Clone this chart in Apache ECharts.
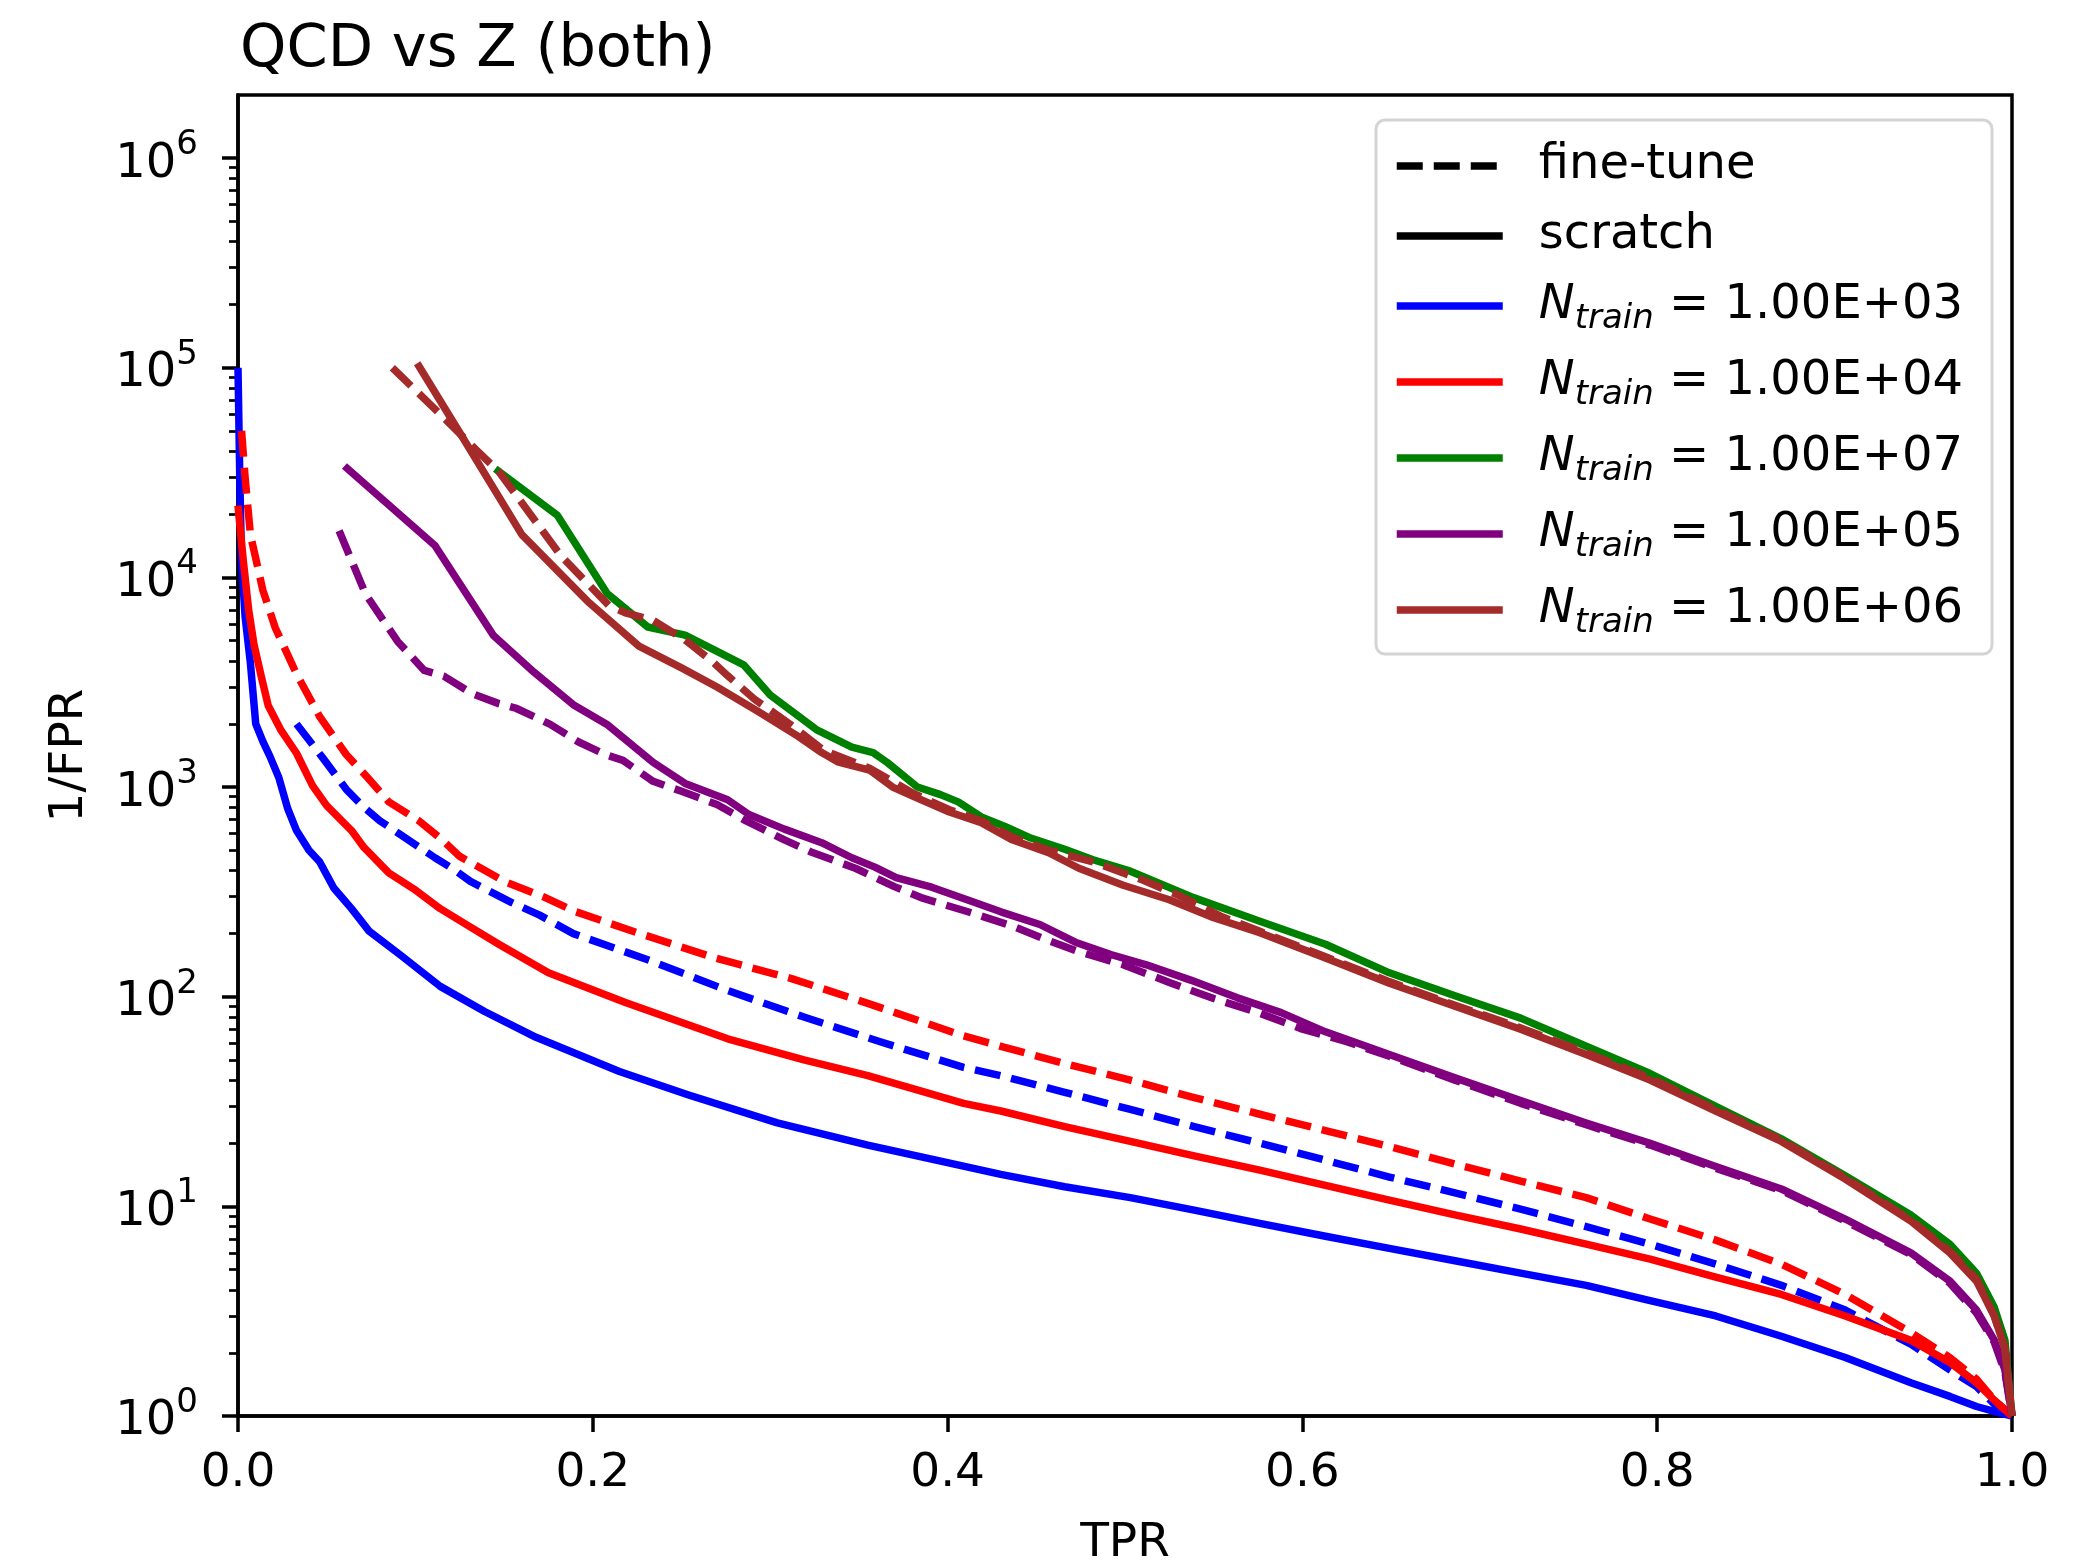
<!DOCTYPE html>
<html>
<head>
<meta charset="utf-8">
<script src="https://cdn.jsdelivr.net/npm/echarts@6/dist/echarts.min.js"></script>
<style>
  html, body { margin: 0; padding: 0; background: #ffffff; }
  #chart { width: 2096px; height: 1566px; }
</style>
</head>
<body>
<div id="chart"></div>
<script>
// ---------------- DATA ----------------
const titleText = 'QCD vs Z (both)';
const xTickValues = [0, 0.2, 0.4, 0.6, 0.8, 1.0];
const yMajorTicks = [1, 10, 100, 1000, 10000, 100000, 1000000];
const yMinorMantissas = [2, 3, 4, 5, 6, 7, 8, 9];
const legendNames = ['fine-tune', 'scratch',
  'N_train = 1.00E+03', 'N_train = 1.00E+04', 'N_train = 1.00E+07',
  'N_train = 1.00E+05', 'N_train = 1.00E+06'];

// N_train = 1e3 (blue)
const tprScratch1e3 = [0, 0.001, 0.002, 0.004, 0.007, 0.010, 0.014, 0.018, 0.023, 0.028, 0.033, 0.040, 0.046, 0.054, 0.064, 0.074, 0.092, 0.114, 0.139, 0.168, 0.215, 0.254, 0.304, 0.355, 0.398, 0.43, 0.466, 0.503, 0.539, 0.576, 0.613, 0.649, 0.686, 0.723, 0.760, 0.796, 0.833, 0.870, 0.906, 0.943, 0.965, 0.980, 0.992, 1.0];
const invFprScratch1e3 = [100000, 30000, 12000, 6500, 3900, 2000, 1650, 1400, 1110, 790, 620, 500, 440, 330, 263, 205, 157, 112, 85, 64, 44, 34, 25, 19.6, 16.3, 14.2, 12.4, 11, 9.6, 8.3, 7.2, 6.3, 5.5, 4.8, 4.2, 3.55, 3.0, 2.4, 1.9, 1.44, 1.24, 1.11, 1.04, 1.0];
const tprFine1e3 = [0.033, 0.048, 0.061, 0.071, 0.080, 0.092, 0.111, 0.121, 0.131, 0.154, 0.170, 0.189, 0.233, 0.276, 0.319, 0.362, 0.409, 0.43, 0.466, 0.503, 0.539, 0.576, 0.613, 0.649, 0.686, 0.723, 0.760, 0.796, 0.833, 0.870, 0.906, 0.943, 0.965, 0.980, 0.990, 1.0];
const invFprFine1e3 = [2000, 1370, 975, 800, 690, 590, 460, 408, 355, 282, 245, 200, 148, 107, 80, 61, 46, 42, 35, 29, 24, 20, 16.6, 13.8, 11.6, 9.7, 8.0, 6.6, 5.3, 4.2, 3.2, 2.2, 1.66, 1.38, 1.14, 1.0];

// N_train = 1e4 (red)
const tprScratch1e4 = [0, 0.003, 0.006, 0.009, 0.013, 0.017, 0.024, 0.033, 0.042, 0.050, 0.064, 0.071, 0.085, 0.099, 0.114, 0.129, 0.147, 0.175, 0.218, 0.276, 0.319, 0.355, 0.409, 0.43, 0.466, 0.503, 0.539, 0.576, 0.613, 0.649, 0.686, 0.723, 0.760, 0.796, 0.833, 0.870, 0.906, 0.943, 0.965, 0.980, 0.990, 1.0];
const invFprScratch1e4 = [22000, 12000, 7000, 4800, 3400, 2450, 1880, 1450, 1016, 815, 620, 515, 390, 327, 263, 220, 178, 130, 94, 63, 50, 42, 31, 28.5, 24, 20.4, 17.4, 14.9, 12.6, 10.7, 9.1, 7.8, 6.6, 5.6, 4.6, 3.8, 3.0, 2.3, 1.8, 1.44, 1.19, 1.0];
const tprFine1e4 = [0.002, 0.004, 0.007, 0.014, 0.021, 0.033, 0.046, 0.061, 0.073, 0.085, 0.102, 0.114, 0.125, 0.150, 0.172, 0.190, 0.225, 0.269, 0.312, 0.355, 0.409, 0.43, 0.466, 0.503, 0.539, 0.576, 0.613, 0.649, 0.686, 0.723, 0.760, 0.796, 0.833, 0.870, 0.906, 0.943, 0.965, 0.980, 0.990, 1.0];
const invFprFine1e4 = [50000, 30000, 16000, 8700, 5750, 3460, 2170, 1430, 1110, 850, 690, 570, 467, 355, 300, 255, 202, 153, 122, 93, 65, 58, 48, 40, 33, 27.5, 23, 19.3, 15.9, 13.2, 11, 8.7, 6.9, 5.3, 3.8, 2.5, 1.9, 1.5, 1.19, 1.0];

// N_train = 1e7 (green)
const tprScratch1e7 = [0.145, 0.180, 0.208, 0.231, 0.252, 0.272, 0.285, 0.300, 0.326, 0.346, 0.358, 0.366, 0.383, 0.396, 0.406, 0.419, 0.432, 0.446, 0.466, 0.482, 0.503, 0.539, 0.576, 0.613, 0.649, 0.686, 0.723, 0.760, 0.796, 0.833, 0.870, 0.906, 0.943, 0.965, 0.980, 0.990, 0.996, 1.0];
const invFprScratch1e7 = [33000, 19800, 8400, 5800, 5300, 4350, 3830, 2750, 1880, 1550, 1460, 1310, 1000, 920, 850, 720, 650, 575, 505, 450, 397, 296, 229, 178, 130, 101, 79, 58, 43, 30, 21, 14, 9.1, 6.6, 4.8, 3.3, 2.3, 1.0];

// N_train = 1e5 (purple)
const tprScratch1e5 = [0.060, 0.111, 0.144, 0.167, 0.189, 0.208, 0.234, 0.252, 0.276, 0.288, 0.308, 0.329, 0.346, 0.359, 0.371, 0.391, 0.411, 0.43, 0.452, 0.472, 0.492, 0.512, 0.537, 0.563, 0.588, 0.613, 0.649, 0.686, 0.723, 0.760, 0.796, 0.833, 0.870, 0.906, 0.943, 0.965, 0.980, 0.990, 0.996, 1.0];
const invFprScratch1e5 = [34000, 14200, 5280, 3520, 2470, 1990, 1310, 1040, 870, 740, 630, 543, 460, 415, 370, 333, 290, 254, 221, 182, 159, 142, 120, 99, 84, 68, 53, 41, 32, 25, 20, 15.5, 12.1, 8.7, 6.0, 4.4, 3.2, 2.3, 1.66, 1.0];
const tprFine1e5 = [0.057, 0.072, 0.090, 0.105, 0.116, 0.132, 0.147, 0.157, 0.176, 0.192, 0.207, 0.217, 0.234, 0.250, 0.270, 0.285, 0.308, 0.323, 0.348, 0.370, 0.386, 0.411, 0.436, 0.457, 0.474, 0.499, 0.525, 0.550, 0.575, 0.600, 0.625, 0.649, 0.686, 0.723, 0.760, 0.796, 0.833, 0.870, 0.906, 0.943, 0.965, 0.980, 0.990, 0.996, 1.0];
const invFprFine1e5 = [16700, 8300, 4950, 3600, 3380, 2790, 2500, 2370, 1990, 1640, 1430, 1340, 1065, 955, 825, 700, 560, 490, 410, 335, 295, 255, 218, 185, 164, 142, 117, 98, 84, 70, 61, 52, 40, 31, 24.5, 19.6, 15.2, 11.9, 8.5, 5.9, 4.3, 3.1, 2.25, 1.62, 1.0];

// N_train = 1e6 (brown)
const tprScratch1e6 = [0.101, 0.127, 0.160, 0.197, 0.226, 0.250, 0.270, 0.293, 0.316, 0.329, 0.338, 0.356, 0.369, 0.381, 0.401, 0.419, 0.436, 0.457, 0.474, 0.499, 0.525, 0.550, 0.576, 0.613, 0.649, 0.686, 0.723, 0.760, 0.796, 0.833, 0.870, 0.906, 0.943, 0.965, 0.980, 0.990, 0.996, 1.0];
const invFprScratch1e6 = [105000, 46000, 16000, 7700, 4700, 3700, 3000, 2300, 1740, 1460, 1320, 1205, 1000, 900, 760, 676, 562, 486, 410, 340, 290, 238, 202, 153, 116, 90, 70, 53, 40, 28.5, 20.4, 13.5, 8.5, 6.0, 4.4, 3.0, 2.1, 1.0];
const tprFine1e6 = [0.087, 0.114, 0.135, 0.147, 0.182, 0.209, 0.219, 0.234, 0.252, 0.267, 0.276, 0.291, 0.311, 0.33, 0.356, 0.381, 0.401, 0.419, 0.436, 0.457, 0.482, 0.51, 0.53, 0.555, 0.576, 0.613, 0.649, 0.686, 0.723, 0.760, 0.796, 0.833, 0.870, 0.906, 0.943, 0.965, 0.980, 0.990, 0.996, 1.0];
const invFprFine1e6 = [100000, 60000, 40000, 32000, 12700, 7350, 6750, 6240, 5030, 4000, 3400, 2630, 2000, 1500, 1230, 930, 780, 690, 580, 500, 440, 360, 305, 240, 205, 155, 118, 91, 71, 54, 41, 29, 20.7, 13.7, 8.6, 6.1, 4.5, 3.0, 2.1, 1.0];

// ---------------- STYLE ----------------
const FONT = 'DejaVu Sans';
const LW = 7.5;
const DASH = [26, 11];
const colors = { n1e3: '#0000ff', n1e4: '#ff0000', n1e7: '#008000', n1e5: '#800080', n1e6: '#a52a2a' };

function pairs(xs, ys) { return xs.map((x, i) => [x, ys[i]]); }

function curve(name, xs, ys, color, dashed) {
  return {
    name: name, type: 'line', data: pairs(xs, ys),
    xAxisIndex: 0, yAxisIndex: 0,
    symbol: 'none', showSymbol: false, smooth: false, silent: true,
    lineStyle: { color: color, width: LW, type: dashed ? DASH : 'solid', cap: 'butt', join: 'round' },
    itemStyle: { color: color },
    emphasis: { disabled: true }
  };
}
function legendOnly(name, color, dashed) {
  return {
    name: name, type: 'line', data: [], symbol: 'none', showSymbol: false, silent: true,
    lineStyle: { color: color, width: LW, type: dashed ? DASH : 'solid', cap: 'butt' },
    itemStyle: { color: color }
  };
}

const yMinorTicks = [];
for (let d = 0; d < 6; d++) {
  yMinorMantissas.forEach(m => yMinorTicks.push(m * Math.pow(10, d)));
}

const series = [
  curve('scratch 1e3', tprScratch1e3, invFprScratch1e3, colors.n1e3, false),
  curve('fine-tune 1e3', tprFine1e3, invFprFine1e3, colors.n1e3, true),
  curve('scratch 1e4', tprScratch1e4, invFprScratch1e4, colors.n1e4, false),
  curve('fine-tune 1e4', tprFine1e4, invFprFine1e4, colors.n1e4, true),
  curve('scratch 1e7', tprScratch1e7, invFprScratch1e7, colors.n1e7, false),
  curve('scratch 1e5', tprScratch1e5, invFprScratch1e5, colors.n1e5, false),
  curve('fine-tune 1e5', tprFine1e5, invFprFine1e5, colors.n1e5, true),
  curve('scratch 1e6', tprScratch1e6, invFprScratch1e6, colors.n1e6, false),
  curve('fine-tune 1e6', tprFine1e6, invFprFine1e6, colors.n1e6, true),
  legendOnly(legendNames[0], '#000000', true),
  legendOnly(legendNames[1], '#000000', false),
  legendOnly(legendNames[2], colors.n1e3, false),
  legendOnly(legendNames[3], colors.n1e4, false),
  legendOnly(legendNames[4], colors.n1e7, false),
  legendOnly(legendNames[5], colors.n1e5, false),
  legendOnly(legendNames[6], colors.n1e6, false)
];

const chart = echarts.init(document.getElementById('chart'), null, { renderer: 'canvas', width: 2096, height: 1566 });

const option = {
  animation: false,
  backgroundColor: '#ffffff',
  textStyle: { fontFamily: FONT },
  title: {
    text: titleText, left: 240, top: 21, padding: 0,
    textStyle: { fontFamily: FONT, fontSize: 59, fontWeight: 'normal', color: '#000000' }
  },
  grid: {
    left: 238, right: 84, top: 95, bottom: 150,
    show: true, borderColor: '#000000', borderWidth: 3.5, backgroundColor: 'transparent',
    containLabel: false, outerBoundsMode: 'none'
  },
  legend: {
    data: legendNames,
    orient: 'vertical',
    left: 1376, top: 120,
    padding: [22, 29, 14, 17],
    itemWidth: 106, itemHeight: 14, itemGap: 22,
    selectedMode: false,
    backgroundColor: 'rgba(255,255,255,0.8)',
    borderColor: '#d4d4d4', borderWidth: 3, borderRadius: 9,
    lineStyle: { width: LW },
    itemStyle: { opacity: 0, borderWidth: 0 },
    formatter: function (name) {
      if (name.indexOf('N_train') === 0) {
        return '{g| }{n|N}{sub|train}{t| = ' + name.split('= ')[1] + '}';
      }
      return '{g| }{t|' + name + '}';
    },
    textStyle: {
      fontFamily: FONT, fontSize: 48, color: '#000000',
      rich: {
        g: { width: 31, lineHeight: 60, fontSize: 48 },
        t: { fontFamily: FONT, fontSize: 48, lineHeight: 48, color: '#000000', verticalAlign: 'middle' },
        n: { fontFamily: FONT, fontSize: 48, lineHeight: 48, color: '#000000', fontStyle: 'italic', verticalAlign: 'middle' },
        sub: { fontFamily: FONT, fontSize: 34, lineHeight: 34, color: '#000000', fontStyle: 'italic', verticalAlign: 'bottom' }
      }
    }
  },
  xAxis: {
    type: 'value', min: 0, max: 1, interval: 0.2,
    name: 'TPR', nameLocation: 'middle', nameGap: 104,
    nameTextStyle: { fontFamily: FONT, fontSize: 47, color: '#000000' },
    axisLine: { show: true, onZero: false, lineStyle: { color: '#000000', width: 3.5 } },
    axisTick: { show: true, inside: false, length: 16, lineStyle: { color: '#000000', width: 3.5 } },
    axisLabel: {
      show: true, margin: 34, fontFamily: FONT, fontSize: 47, color: '#000000',
      formatter: function (v) { return v.toFixed(1); }
    },
    splitLine: { show: false }
  },
  yAxis: [
    {
      type: 'log', logBase: 10, min: 1, max: 2000000,
      name: '1/FPR', nameLocation: 'middle', nameGap: 145,
      nameTextStyle: { fontFamily: FONT, fontSize: 47, color: '#000000' },
      axisLine: { show: true, lineStyle: { color: '#000000', width: 3.5 } },
      axisTick: { show: true, inside: false, length: 16, customValues: yMajorTicks,
        lineStyle: { color: '#000000', width: 3.5 } },
      axisLabel: {
        show: true, margin: 40, customValues: yMajorTicks,
        formatter: function (v) {
          const e = Math.log10(v); const r = Math.round(e);
          if (Math.abs(e - r) > 1e-6) return '';
          return '{b|10}{s|' + r + '}';
        },
        rich: {
          b: { fontFamily: FONT, fontSize: 48, lineHeight: 60, color: '#000000', verticalAlign: 'bottom' },
          s: { fontFamily: FONT, fontSize: 34, lineHeight: 34, color: '#000000', verticalAlign: 'top' }
        }
      },
      splitLine: { show: false },
      minorTick: { show: false }
    },
    {
      type: 'log', logBase: 10, min: 1, max: 2000000, position: 'left', offset: 0,
      axisLine: { show: false },
      axisTick: { show: true, inside: false, length: 9, customValues: yMinorTicks,
        lineStyle: { color: '#000000', width: 2.7 } },
      axisLabel: { show: false },
      splitLine: { show: false }
    }
  ],
  series: series
};

chart.setOption(option);
</script>
</body>
</html>
